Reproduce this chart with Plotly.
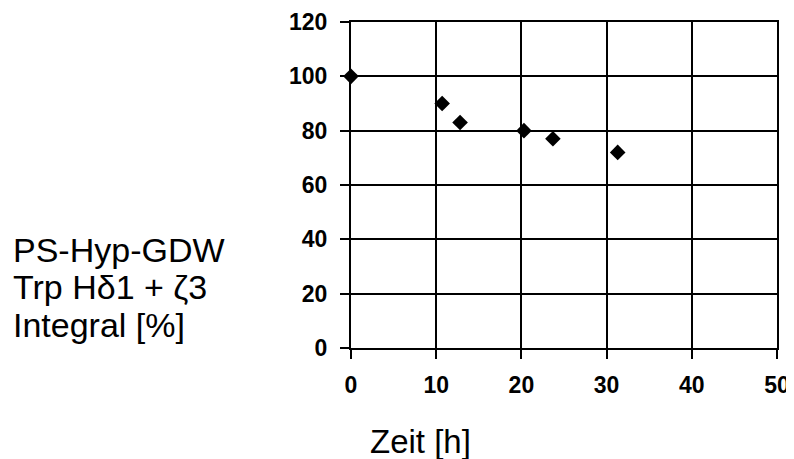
import plotly.graph_objects as go

# Messpunkte
zeit_h = [0, 10.7, 12.8, 20.3, 23.7, 31.3]
integral_pct = [100, 90, 83, 80, 77, 72]

x_ticks = [0, 10, 20, 30, 40, 50]
y_ticks = [0, 20, 40, 60, 80, 100, 120]

y_title_lines = ["PS-Hyp-GDW", "Trp H\u03b41 + \u03b63", "Integral [%]"]

fig = go.Figure(go.Scatter(
    x=zeit_h,
    y=integral_pct,
    mode="markers",
    marker=dict(symbol="diamond", size=12, color="black"),
    cliponaxis=False,
    showlegend=False,
))

axis_style = dict(
    showgrid=True,
    gridcolor="black",
    gridwidth=2,
    showline=True,
    linecolor="black",
    linewidth=2,
    mirror=True,
    zeroline=False,
    automargin=False,
    ticks="outside",
    ticklen=9,
    tickwidth=2,
    tickcolor="black",
    tickfont=dict(family="Liberation Sans, Arial, sans-serif", size=23, color="black", weight="bold"),
)

fig.update_xaxes(range=[0, 50], tickvals=x_ticks, ticklabelstandoff=6, **axis_style)
fig.update_yaxes(range=[0, 120], tickvals=y_ticks, ticklabelstandoff=8, **axis_style)

# Achsentitel links, Zeile fuer Zeile
for i, line in enumerate(y_title_lines):
    fig.add_annotation(
        text=line,
        xref="paper", yref="paper",
        x=-0.797, y=0.30 - i * 0.114,
        xanchor="left", yanchor="middle",
        align="left", showarrow=False,
        font=dict(family="Liberation Sans, Arial, sans-serif", size=34, color="black"),
    )
fig.add_annotation(
    text="Zeit [h]",
    xref="paper", yref="paper",
    x=0.162, y=-0.288,
    xanchor="center", yanchor="middle",
    showarrow=False,
    font=dict(family="Liberation Sans, Arial, sans-serif", size=33, color="black"),
)

# Seite hat 8px Body-Rand, daher Figur etwas kleiner
fig.update_layout(
    width=786,
    height=451,
    margin=dict(l=343, r=17, t=14, b=111),
    paper_bgcolor="white",
    plot_bgcolor="white",
)

fig.write_html("out.html")
